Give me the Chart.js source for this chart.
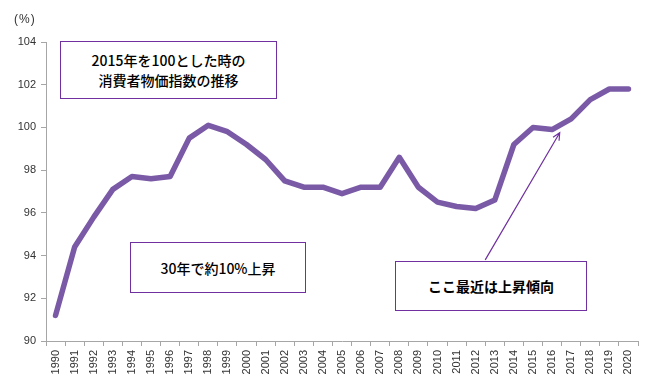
<!DOCTYPE html>
<html>
<head>
<meta charset="utf-8">
<script src="https://cdn.jsdelivr.net/npm/chart.js@4.4.1/dist/chart.umd.min.js"></script>
<style>
    body { margin: 0; background: #fff; }
    #wrap { position: relative; width: 648px; height: 387px; }
    .note {
        position: absolute;
        border: 1.5px solid #7030a0;
        box-sizing: border-box;
        background: #fff;
        display: flex;
        align-items: center;
        justify-content: center;
        text-align: center;
        font-family: "Noto Sans CJK JP", sans-serif;
        font-size: 14px;
        font-weight: 500;
        line-height: 20px;
        color: #000;
    }
    #unit {
        position: absolute; left: 14px; top: 12px;
        font-family: "Liberation Sans", Arial, sans-serif;
        font-size: 12px; color: #333; letter-spacing: 1px;
    }
</style>
</head>
<body>
<div id="wrap">
    <canvas id="cpi" width="648" height="387"></canvas>
    <div id="unit">(%)</div>
    <div class="note" style="left:60px; top:41px; width:217px; height:58px;">2015年を100とした時の<br>消費者物価指数の推移</div>
    <div class="note" style="left:130px; top:242px; width:176px; height:51px;">30年で約10%上昇</div>
    <div class="note" style="left:395px; top:261px; width:192px; height:50px; font-weight:bold;">ここ最近は上昇傾向</div>
</div>
<script>
// Data
const years = ['1990', '1991', '1992', '1993', '1994', '1995', '1996', '1997', '1998', '1999',
    '2000', '2001', '2002', '2003', '2004', '2005', '2006', '2007', '2008', '2009',
    '2010', '2011', '2012', '2013', '2014', '2015', '2016', '2017', '2018', '2019', '2020'];
const cpi = [91.2, 94.4, 95.8, 97.1, 97.7, 97.6, 97.7, 99.5, 100.1, 99.8,
    99.2, 98.5, 97.5, 97.2, 97.2, 96.9, 97.2, 97.2, 98.6, 97.2,
    96.5, 96.3, 96.2, 96.6, 99.2, 100.0, 99.9, 100.4, 101.3, 101.8, 101.8];
const yTicks = [90, 92, 94, 96, 98, 100, 102, 104];

// arrow from (index, value) to (index, value)
const arrowFrom = [22.5, 93.8];
const arrowTo = [26.4, 99.75];

const arrowPlugin = {
    id: 'arrow',
    afterDraw(chart) {
        const { ctx, scales: { x, y } } = chart;
        const x0 = x.getPixelForValue(arrowFrom[0]);
        const y0 = y.getPixelForValue(arrowFrom[1]);
        const x1 = x.getPixelForValue(arrowTo[0]);
        const y1 = y.getPixelForValue(arrowTo[1]);
        const ang = Math.atan2(y1 - y0, x1 - x0);
        ctx.save();
        ctx.strokeStyle = '#7030a0';
        ctx.lineWidth = 1.2;
        ctx.beginPath();
        ctx.moveTo(x0, y0);
        ctx.lineTo(x1, y1);
        ctx.moveTo(x1 - 8 * Math.cos(ang - 0.45), y1 - 8 * Math.sin(ang - 0.45));
        ctx.lineTo(x1, y1);
        ctx.lineTo(x1 - 8 * Math.cos(ang + 0.45), y1 - 8 * Math.sin(ang + 0.45));
        ctx.stroke();
        ctx.restore();
    }
};

const tickFont = { family: '"Liberation Sans", Arial, sans-serif', size: 11 };

new Chart(document.getElementById('cpi'), {
    type: 'line',
    data: {
        labels: years,
        datasets: [{
            data: cpi,
            borderColor: '#7a5aa6',
            borderWidth: 5.5,
            pointRadius: 0,
            tension: 0,
            borderJoinStyle: 'round',
            borderCapStyle: 'round'
        }]
    },
    options: {
        responsive: false,
        animation: false,
        layout: { padding: { top: 42, right: 10, left: 0, bottom: 0 } },
        plugins: { legend: { display: false }, tooltip: { enabled: false } },
        scales: {
            x: {
                offset: true,
                grid: { offset: true, drawOnChartArea: false, drawTicks: true, tickLength: 5, color: '#a6a6a6' },
                border: { color: '#a6a6a6', width: 1 },
                ticks: { font: tickFont, color: '#333', minRotation: 90, maxRotation: 90, autoSkip: false, padding: 4 },
                afterFit: s => { s.height = 46; }
            },
            y: {
                min: 90,
                max: 104,
                afterBuildTicks: s => { s.ticks = yTicks.map(v => ({ value: v })); },
                grid: { drawOnChartArea: false, drawTicks: true, tickLength: 5, color: '#a6a6a6' },
                border: { color: '#a6a6a6', width: 1 },
                ticks: { font: tickFont, color: '#333', padding: 5 },
                afterFit: s => { s.width = 46; }
            }
        }
    },
    plugins: [arrowPlugin]
});
</script>
</body>
</html>
